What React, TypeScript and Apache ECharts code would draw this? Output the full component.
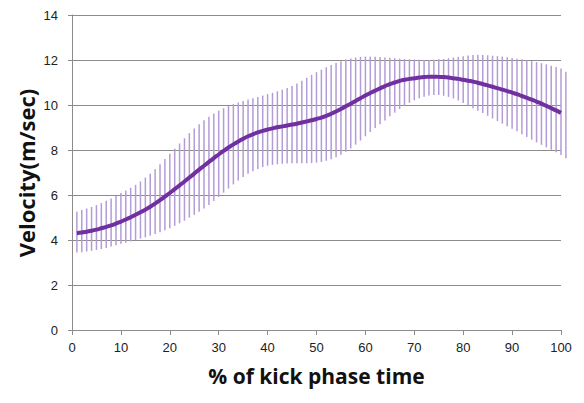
import React, { useEffect, useRef } from "react";
import * as echarts from "echarts";

// % of kick phase time positions for each measurement (error bars)
const barX: number[] = [
  1, 2, 3, 4, 5, 6, 7, 8, 9, 10, 11, 12, 13, 14, 15, 16, 17, 18, 19, 20,
  21, 22, 23, 24, 25, 26, 27, 28, 29, 30, 31, 32, 33, 34, 35, 36, 37, 38, 39, 40,
  41, 42, 43, 44, 45, 46, 47, 48, 49, 50, 51, 52, 53, 54, 55, 56, 57, 58, 59, 60,
  61, 62, 63, 64, 65, 66, 67, 68, 69, 70, 71, 72, 73, 74, 75, 76, 77, 78, 79, 80,
  81, 82, 83, 84, 85, 86, 87, 88, 89, 90, 91, 92, 93, 94, 95, 96, 97, 98, 99, 100, 101,
];

// mean velocity (m/sec), x = 1..100
const meanVelocity: number[] = [
  4.3, 4.33, 4.37, 4.41, 4.46, 4.52, 4.58, 4.65, 4.73, 4.82,
  4.91, 5.01, 5.12, 5.23, 5.35, 5.48, 5.62, 5.77, 5.93, 6.09,
  6.26, 6.43, 6.6, 6.78, 6.95, 7.13, 7.3, 7.47, 7.64, 7.8,
  7.96, 8.11, 8.25, 8.38, 8.5, 8.61, 8.7, 8.78, 8.85, 8.91,
  8.96, 9.01, 9.05, 9.09, 9.13, 9.17, 9.22, 9.27, 9.32, 9.38,
  9.44, 9.52, 9.61, 9.71, 9.82, 9.94, 10.06, 10.18, 10.3, 10.42,
  10.53, 10.64, 10.74, 10.84, 10.93, 11.0, 11.07, 11.12, 11.16, 11.19,
  11.22, 11.24, 11.26, 11.26, 11.25, 11.24, 11.22, 11.19, 11.16, 11.12,
  11.08, 11.04, 10.99, 10.93, 10.87, 10.81, 10.75, 10.68, 10.62, 10.55,
  10.48, 10.4, 10.32, 10.24, 10.15, 10.06, 9.96, 9.86, 9.76, 9.65,
];

// top of error bars
const upperVelocity: number[] = [
  5.26, 5.33, 5.4, 5.47, 5.55, 5.64, 5.74, 5.85, 5.97, 6.09,
  6.2, 6.32, 6.45, 6.6, 6.77, 6.95, 7.15, 7.37, 7.6, 7.83,
  8.06, 8.29, 8.52, 8.75, 8.96, 9.15, 9.32, 9.48, 9.62, 9.75,
  9.86, 9.96, 10.04, 10.11, 10.18, 10.24, 10.3, 10.36, 10.42, 10.48,
  10.54, 10.61, 10.68, 10.76, 10.85, 10.96, 11.08, 11.21, 11.34, 11.46,
  11.57, 11.68, 11.78, 11.87, 11.95, 12.02, 12.07, 12.11, 12.14, 12.15,
  12.15, 12.14, 12.13, 12.11, 12.1, 12.08, 12.06, 12.04, 12.03, 12.02,
  12.01, 12.0, 12.0, 12.01, 12.03, 12.05, 12.08, 12.11, 12.14, 12.17,
  12.2, 12.22, 12.23, 12.22, 12.21, 12.19, 12.17, 12.15, 12.12, 12.09,
  12.06, 12.03, 11.99, 11.95, 11.91, 11.86, 11.81, 11.75, 11.69, 11.62, 11.48,
];

// bottom of error bars
const lowerVelocity: number[] = [
  3.44, 3.46, 3.49, 3.52, 3.56, 3.6, 3.65, 3.71, 3.77, 3.83,
  3.88, 3.94, 4.0, 4.06, 4.12, 4.19, 4.27, 4.35, 4.43, 4.52,
  4.63, 4.74, 4.86, 4.99, 5.12, 5.26, 5.4, 5.56, 5.73, 5.91,
  6.1, 6.29, 6.47, 6.64, 6.8, 6.94, 7.06, 7.16, 7.24, 7.3,
  7.34, 7.37, 7.39, 7.4, 7.41, 7.41, 7.41, 7.41, 7.42, 7.44,
  7.47, 7.52, 7.59, 7.68, 7.79, 7.92, 8.07, 8.24, 8.42, 8.61,
  8.8, 8.98, 9.15, 9.31, 9.5, 9.66, 9.82, 9.97, 10.1, 10.21,
  10.3, 10.37, 10.42, 10.44, 10.44, 10.41, 10.36, 10.29, 10.2, 10.09,
  9.98, 9.86, 9.75, 9.64, 9.52, 9.4, 9.29, 9.17, 9.06, 8.95,
  8.83, 8.7, 8.58, 8.46, 8.34, 8.23, 8.12, 8.01, 7.9, 7.78, 7.63,
];

const X_NAME = "% of kick phase time";
const Y_NAME = "Velocity(m/sec)";

export default function App() {
  const ref = useRef<HTMLDivElement>(null);

  useEffect(() => {
    if (!ref.current) return;
    const chart = echarts.init(ref.current, undefined, { renderer: "svg" });

    const lineData = meanVelocity.map((v, i) => [barX[i], v]);
    const barData = barX.map((x, i) => [x, lowerVelocity[i], upperVelocity[i]]);

    const font = "'Liberation Sans', Arial, sans-serif";
    const nameFont = "'Open Sans', 'DejaVu Sans', sans-serif";

    chart.setOption({
      animation: false,
      backgroundColor: "#ffffff",
      grid: { left: 72, right: 23, top: 15, bottom: 73, containLabel: false },
      graphic: [
        {
          type: "text",
          x: 26,
          y: 173,
          rotation: Math.PI / 2,
          style: {
            text: Y_NAME,
            fontSize: 22,
            fontWeight: "bold",
            fill: "#111",
            fontFamily: nameFont,
            align: "center",
            verticalAlign: "middle",
          },
        },
      ],
      xAxis: {
        type: "value",
        min: 0,
        max: 100,
        interval: 10,
        name: X_NAME,
        nameLocation: "middle",
        nameGap: 35,
        nameTextStyle: { fontSize: 21, fontWeight: "bold", color: "#111", fontFamily: nameFont },
        axisLine: { show: true, lineStyle: { color: "#8c8c8c", width: 1 } },
        axisTick: { show: true, length: 5, lineStyle: { color: "#8c8c8c" } },
        axisLabel: { fontSize: 13, color: "#222", margin: 11, fontFamily: font },
        splitLine: { show: false },
      },
      yAxis: {
        type: "value",
        min: 0,
        max: 14,
        interval: 2,
        axisLine: { show: true, lineStyle: { color: "#8c8c8c", width: 1 } },
        axisTick: { show: true, length: 4, lineStyle: { color: "#8c8c8c" } },
        axisLabel: { fontSize: 13, color: "#222", margin: 14, fontFamily: font },
        splitLine: { show: true, lineStyle: { color: "#8c8c8c", width: 1 } },
      },
      series: [
        {
          type: "custom",
          name: "SD",
          clip: false,
          data: barData,
          encode: { x: 0, y: [1, 2] },
          renderItem: (params: any, api: any) => {
            const x = api.value(0);
            const lo = api.coord([x, api.value(1)]);
            const hi = api.coord([x, api.value(2)]);
            return {
              type: "line",
              shape: { x1: lo[0], y1: lo[1], x2: hi[0], y2: hi[1] },
              style: { stroke: "#b49cd6", lineWidth: 1.5 },
            };
          },
          z: 1,
        },
        {
          type: "line",
          name: "Mean",
          data: lineData,
          smooth: true,
          showSymbol: false,
          lineStyle: { color: "#7030a0", width: 4 },
          itemStyle: { color: "#7030a0" },
          z: 3,
        },
      ],
    });

    return () => chart.dispose();
  }, []);

  return (
    <div
      ref={ref}
      style={{ position: "absolute", left: 0, top: 0, width: 584, height: 403, background: "#fff" }}
    />
  );
}
